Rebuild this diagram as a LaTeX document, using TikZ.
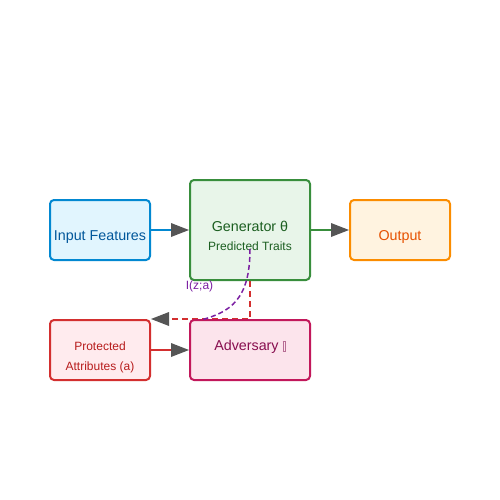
\documentclass[tikz,border=0pt]{standalone}
\usepackage{fontspec}
\setmainfont{Liberation Sans}
\usetikzlibrary{arrows.meta, backgrounds}

\definecolor{inline}{HTML}{0288D1}
\definecolor{infill}{HTML}{E1F5FE}
\definecolor{intext}{HTML}{01579B}
\definecolor{genline}{HTML}{388E3C}
\definecolor{genfill}{HTML}{E8F5E9}
\definecolor{gentext}{HTML}{1B5E20}
\definecolor{outline}{HTML}{FB8C00}
\definecolor{outfill}{HTML}{FFF3E0}
\definecolor{outtext}{HTML}{E65100}
\definecolor{protline}{HTML}{D32F2F}
\definecolor{protfill}{HTML}{FFEBEE}
\definecolor{prottext}{HTML}{B71C1C}
\definecolor{advline}{HTML}{C2185B}
\definecolor{advfill}{HTML}{FCE4EC}
\definecolor{advtext}{HTML}{880E4F}
\definecolor{mipurple}{HTML}{7B1FA2}
\definecolor{tipgray}{HTML}{555555}

\tikzset{
    box/.style={draw, rounded corners=4pt, line width=2pt},
    small box/.style={box, minimum width=100pt, minimum height=60pt},
    big box/.style={box, minimum width=120pt, minimum height=100pt},
    big text/.style={font=\fontsize{14.3}{17}\selectfont},
    small text/.style={font=\fontsize{12}{14}\selectfont}
}

\newcommand{\tofu}{{\color{advtext!60}\setlength{\fboxsep}{0pt}\setlength{\fboxrule}{0.3pt}\fbox{\rule{0pt}{9pt}\hspace{2.5pt}}}}

\begin{document}
\begin{tikzpicture}[x=1pt, y=-1pt]
    \useasboundingbox (0,0) rectangle (500,500);

    \node [small box, draw=inline, fill=infill,
           label={[big text, text=intext, yshift=-7pt]center:Input Features}] (inp) at (100,230) {};
    \node [big box, draw=genline, fill=genfill,
           label={[big text, text=gentext, yshift=4pt]center:Generator θ},
           label={[small text, text=gentext, yshift=-16pt]center:Predicted Traits}] (gen) at (250,230) {};
    \node [small box, draw=outline, fill=outfill,
           label={[big text, text=outtext, yshift=-7pt]center:Output}] (out) at (400,230) {};
    \node [small box, draw=protline, fill=protfill,
           label={[small text, text=prottext, yshift=4pt]center:Protected},
           label={[small text, text=prottext, yshift=-17pt]center:Attributes (a)}] (prot) at (100,350) {};
    \node [big box, minimum height=60pt, draw=advline, fill=advfill,
           label={[big text, text=advtext, yshift=3pt]center:Adversary \tofu}] (adv) at (250,350) {};

    \coordinate (mistart) at (250,249);
    \coordinate (miend) at (201,320);
    \node [small text, text=mipurple] (milabel) at (199.5,286) {I(z;a)};

    \begin{scope}[>={Triangle[length=18pt, width=14pt, line width=0pt, color=tipgray]},
                every edge/.style={draw, line width=2pt}]
        \path [->] (inp) edge [draw=inline] (gen);
        \path [->] (gen) edge [draw=genline] (out);
        \path [->] (prot) edge [draw=protline] (adv);
    \end{scope}

    \begin{scope}[on background layer, >={Triangle[length=18pt, width=14pt, line width=0pt, color=tipgray]}]
        \draw [->, protline, line width=2pt, dash pattern=on 6pt off 4pt]
            (gen.south) -- (adv.north) -- (prot.north east);
    \end{scope}

    \draw [mipurple, line width=1.5pt, dash pattern=on 5pt off 3pt]
        (mistart) .. controls (250,300) and (230,312) .. (miend);

\end{tikzpicture}
\end{document}
